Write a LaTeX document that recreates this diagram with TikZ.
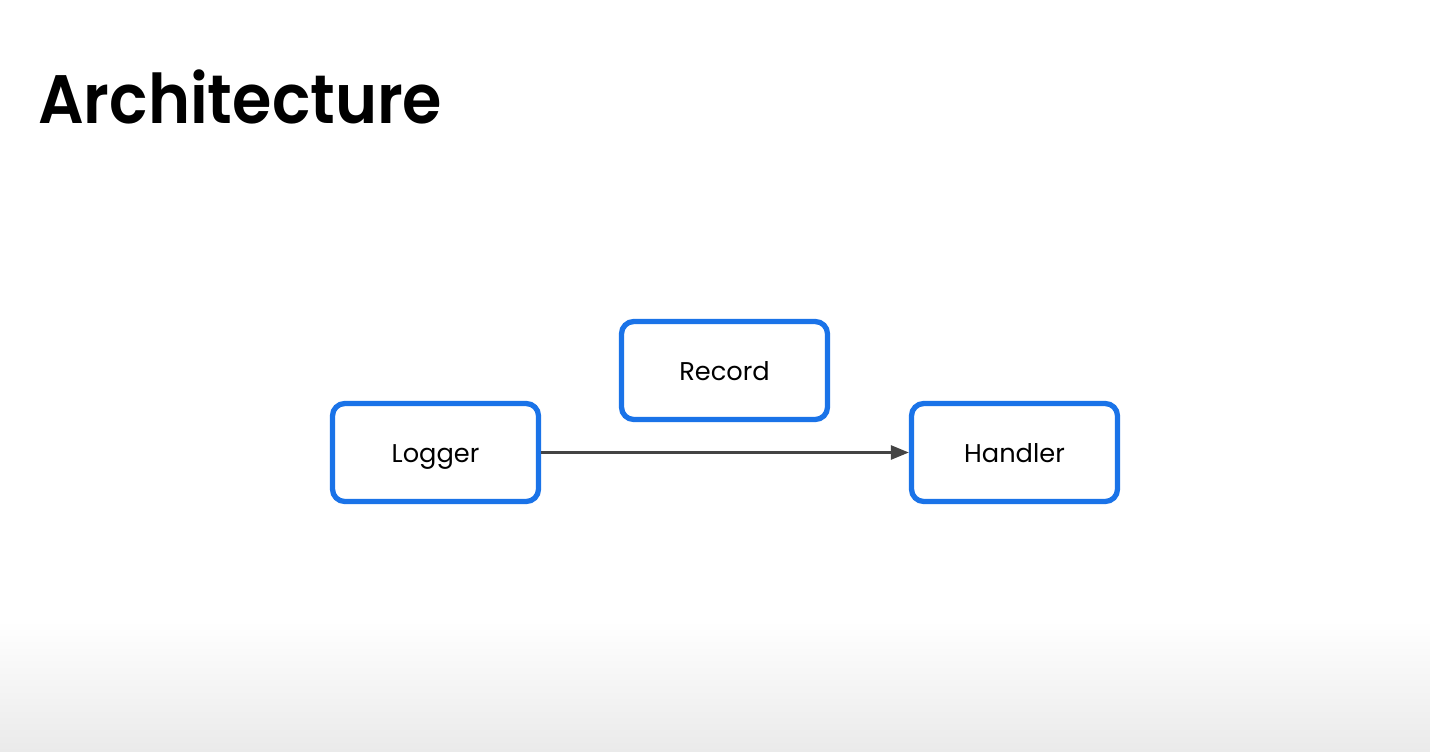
\documentclass[tikz,border=0pt]{standalone}
\usepackage{fontspec}
\setmainfont{Poppins}
\newfontfamily\ttlfont{Poppins SemiBold}
\usepackage{tikz}
\usetikzlibrary{arrows.meta,positioning,shadings}
\definecolor{gblue}{RGB}{26,115,232}
\definecolor{arrgray}{RGB}{68,68,68}
\definecolor{fadegray}{RGB}{234,234,234}
\tikzset{
  box/.style={draw=gblue,line width=3pt,rounded corners=7pt,fill=white,align=center,
    font=\fontsize{14.6}{18}\selectfont,minimum width=4.12cm,minimum height=1.96cm,
    text height=0.38cm,text depth=0pt,inner sep=0pt},
  arr/.style={-{Triangle[length=3.6mm,width=2.8mm]},draw=arrgray,line width=1.5pt},
  ttl/.style={font=\fontsize{39}{44}\ttlfont,anchor=base west,inner sep=0pt}
}
\begin{document}
\begin{tikzpicture}
\useasboundingbox (0,0) rectangle (28.6,-15.04);
% slide background
\fill[white] (0,0) rectangle (28.6,-12.4);
\shade[top color=white,bottom color=fadegray] (0,-12.4) rectangle (28.6,-15.04);
% title
\node[ttl] (title) at (0.76,-2.46) {\scalebox{0.93}[1]{Architecture}};
% components
\node[box] (logger) at (8.71,-9.05) {Logger};
\node[box] (record) at (14.49,-7.41) {Record};
\node[box] (handler) at (20.29,-9.05) {Handler};
\draw[arr] (logger) -- (handler);
\end{tikzpicture}
\end{document}
